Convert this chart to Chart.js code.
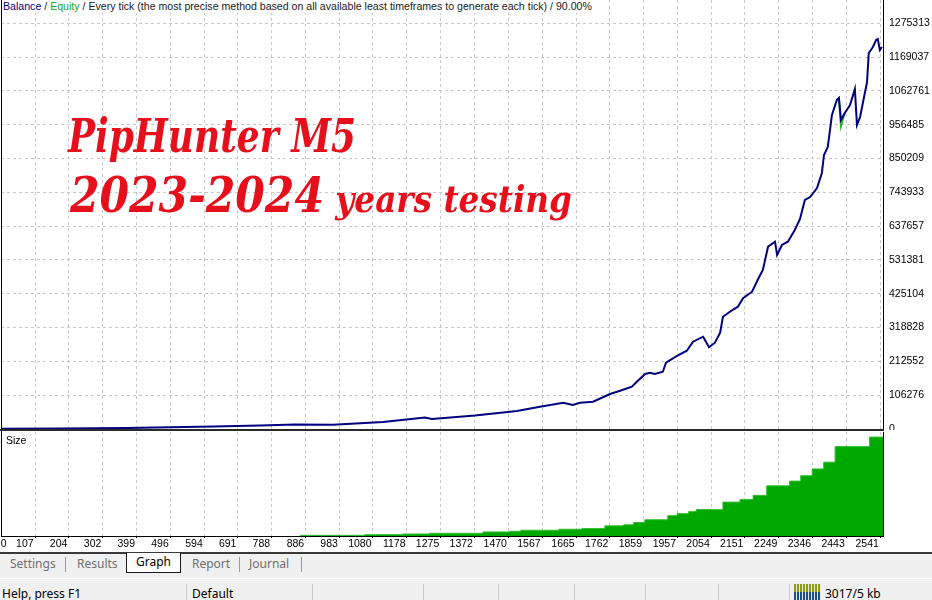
<!DOCTYPE html>
<html>
<head>
<meta charset="utf-8">
<title>PipHunter M5 - tester graph</title>
<script src="https://cdn.jsdelivr.net/npm/chart.js@4.4.1/dist/chart.umd.min.js"></script>
<style>
  body { margin: 0; width: 932px; height: 600px; overflow: hidden; background: #fff; position: relative;
         font-family: "Liberation Sans", Arial, sans-serif; }
  canvas { position: absolute; left: 0; }
  #equityChart { top: 0; }
  #sizeChart { top: 431px; }
  .line { position: absolute; background: #000; }
  #header { position: absolute; left: 3px; top: 0; font-size: 10.6px; line-height: 13px; color: #222;
            white-space: nowrap; background: #fff; padding-right: 2px; }
  #header .bal { color: #00007f; }
  #header .eq { color: #19a319; }
  #sizeLabel { position: absolute; left: 6px; top: 434px; font-size: 10.5px; color: #000; }
  .title { position: absolute; color: #e6101c; font-family: "DejaVu Serif Condensed", "DejaVu Serif", serif;
           font-stretch: condensed; font-style: italic; font-weight: bold; white-space: nowrap;
           transform-origin: 0 0; line-height: 1; }
  #tabs { position: absolute; left: 0; top: 554px; width: 932px; height: 24px; background: #f0f0f0; }
  #tabs span { position: absolute; top: 1px; font-family: "Noto Sans", sans-serif; font-size: 12px; color: #6f6f6f; }
  #tabs i { position: absolute; top: 3px; width: 1px; height: 15px; background: #9a9a9a; }
  #graphTab { position: absolute; left: 126px; top: -1px; width: 53px; height: 19px; background: #fff;
              border: 1px solid #1a1a1a; border-top: none; font-family: "Noto Sans", sans-serif; font-size: 12px;
              color: #000; text-align: center; line-height: 18px; }
  #status { position: absolute; left: 0; top: 578px; width: 932px; height: 22px; background: #f0f0f0;
            border-top: 1px solid #fff; }
  #status span { position: absolute; top: 6px; font-family: "Noto Sans", sans-serif; font-size: 12px; color: #000; }
  #status i { position: absolute; top: 5px; width: 1px; height: 17px; background: #c8c8c8; }
  #netIcon { position: absolute; left: 794px; top: 5px; width: 27px; height: 17px;
             background: repeating-linear-gradient(90deg, #1d4f86 0 2px, #dfe7ef 2px 3px); }
  #netIcon::before { content: ""; position: absolute; left: 0; top: 0; width: 27px; height: 8px;
             background: repeating-linear-gradient(90deg, #8c9b1c 0 2px, #e8ecd0 2px 3px); }
</style>
</head>
<body>
<canvas id="equityChart" width="932" height="430"></canvas>
<canvas id="sizeChart" width="932" height="121"></canvas>

<!-- window frame -->
<div class="line" style="left:1px;top:0;width:1px;height:537px"></div>
<div class="line" style="left:0;top:429px;width:884px;height:2px;background:#2a2a2a"></div>
<div class="line" style="left:0;top:552px;width:932px;height:2px;background:#3a3a3a"></div>

<div id="header"><span class="bal">Balance</span> / <span class="eq">Equity</span> / Every tick (the most precise method based on all available least timeframes to generate each tick) / 90.00%</div>
<div id="sizeLabel">Size</div>

<div class="title" id="t1" style="left:68px;top:113px;font-size:46px">PipHunter M5</div>
<div class="title" id="t2" style="left:70px;top:171px;"><span style="font-size:48px">2023-2024</span><span style="font-size:37px"> years testing</span></div>

<div id="tabs">
  <span style="left:10px">Settings</span><i style="left:65px"></i>
  <span style="left:77px">Results</span>
  <div id="graphTab">Graph</div>
  <span style="left:192px">Report</span><i style="left:239px"></i>
  <span style="left:249px">Journal</span><i style="left:301px"></i>
</div>

<div id="status">
  <span style="left:2px">Help, press F1</span>
  <i style="left:186px"></i><span style="left:192px">Default</span>
  <i style="left:312px"></i><i style="left:423px"></i><i style="left:498px"></i><i style="left:574px"></i>
  <i style="left:645px"></i><i style="left:718px"></i><i style="left:789px"></i>
  <div id="netIcon"></div>
  <span style="left:825px">3017/5 kb</span>
</div>

<script>
// balance curve (trade number / account balance)
const trades = [0, 179, 369, 496, 622, 755, 856, 965, 1109, 1230, 1250, 1374, 1495, 1561, 1628, 1656, 1676, 1714,
  1763, 1792, 1826, 1840, 1864, 1878, 1892, 1915, 1924, 1956, 1984, 2002, 2031, 2048, 2065, 2080, 2088, 2108,
  2131, 2146, 2172, 2189, 2203, 2218, 2238, 2244, 2258, 2275, 2295, 2310, 2324, 2339, 2359, 2373, 2379, 2390,
  2402, 2416, 2422, 2428, 2439, 2454, 2468, 2474, 2483, 2491, 2503, 2508, 2520, 2529, 2534, 2540, 2546];
const balance = [1000, 1600, 3100, 5300, 7900, 11000, 14100, 13200, 22000, 35800, 31400, 42400, 56600, 70100,
  82700, 75400, 82700, 85800, 110000, 120400, 133000, 148700, 172900, 177000, 172900, 180100, 208400, 229500,
  246100, 274400, 290100, 256800, 271300, 302700, 353000, 368700, 384500, 410900, 431600, 470600, 499800,
  573100, 588800, 547000, 578400, 588800, 625600, 660100, 719900, 729300, 757600, 804800, 861300, 886500,
  987100, 1034200, 1040500, 971300, 993400, 1018500, 1068800, 955600, 980800, 1024800, 1090800, 1182000,
  1200800, 1222800, 1226000, 1191400, 1200800];

// equity where it drops below balance
const equityTrades = [2416, 2422, 2428, 2433, 2439];
const equity = [1034200, 1040500, 952000, 972000, 993400];

// lot size steps: each size holds from its trade until the next one
const sizeTrades = [870, 1056, 1166, 1243, 1397, 1473, 1506, 1616, 1682, 1748, 1802, 1830, 1863, 1929, 1956,
  1989, 2011, 2088, 2137, 2175, 2214, 2280, 2312, 2345, 2378, 2411, 2510, 2549];
const sizeLots = [0.2, 0.4, 0.6, 0.8, 1.2, 1.4, 1.7, 2.0, 2.2, 3.0, 3.3, 4.0, 4.8, 6.0, 6.6, 7.2, 7.8, 10.0,
  10.8, 12.0, 14.8, 16.2, 17.8, 19.8, 21.8, 26.4, 29.2, 29.2];

const xTicks = [0, 107, 204, 302, 399, 496, 594, 691, 788, 886, 983, 1080, 1178, 1275, 1372, 1470, 1567, 1665,
  1762, 1859, 1957, 2054, 2151, 2249, 2346, 2443, 2541];
const yTicks = [0, 106276, 212552, 318828, 425104, 531381, 637657, 743933, 850209, 956485, 1062761, 1169037, 1275313];

const X_MIN = 9, X_MAX = 2549;
const gridColor = '#c6c6c6';
const tickFont = { family: 'Liberation Sans', size: 10.5 };

function points(xs, ys) {
    return xs.map((x, i) => ({ x: x, y: ys[i] }));
}

// keep the plot edges where they are in the picture, labels may overhang
function noPadding(axis) {
    axis.paddingLeft = 0;
    axis.paddingRight = 0;
    axis.paddingTop = 0;
    axis.paddingBottom = 0;
}

const topChart = new Chart(document.getElementById('equityChart'), {
    type: 'line',
    data: {
        datasets: [{
            label: 'Balance',
            data: points(trades, balance),
            borderColor: '#02027e',
            borderWidth: 2,
            pointRadius: 0,
            order: 0,
        }, {
            label: 'Equity',
            data: points(equityTrades, equity),
            borderColor: '#2fae2f',
            borderWidth: 2,
            pointRadius: 0,
            order: 1,
        }],
    },
    options: {
        responsive: false,
        animation: false,
        events: [],
        layout: { padding: { left: 1, top: 0, right: 0, bottom: 1 } },
        plugins: { legend: { display: false }, tooltip: { enabled: false } },
        scales: {
            x: {
                type: 'linear', min: X_MIN, max: X_MAX,
                afterBuildTicks: (axis) => { axis.ticks = xTicks.filter(v => v >= X_MIN).map(v => ({ value: v })); },
                afterFit: (axis) => { axis.height = 0; noPadding(axis); },
                ticks: { display: false },
                grid: { color: gridColor, drawTicks: false },
                border: { display: false, dash: [3, 3] },
            },
            y: {
                position: 'right', min: 0, max: 1348560,
                afterBuildTicks: (axis) => { axis.ticks = yTicks.map(v => ({ value: v })); },
                afterFit: (axis) => { axis.width = 49; noPadding(axis); },
                ticks: { color: '#000', font: tickFont, padding: 6, callback: (v) => String(v) },
                grid: { color: gridColor, drawTicks: false },
                border: { display: true, color: '#000', width: 1, dash: [3, 3] },
            },
        },
    },
});

const bottomChart = new Chart(document.getElementById('sizeChart'), {
    type: 'line',
    data: {
        datasets: [{
            label: 'Size',
            data: points(sizeTrades, sizeLots),
            stepped: 'before',
            fill: 'origin',
            backgroundColor: '#00a800',
            borderColor: '#34c034',
            borderWidth: 1,
            pointRadius: 0,
        }],
    },
    options: {
        responsive: false,
        animation: false,
        events: [],
        layout: { padding: { left: 1, top: 1, right: 0, bottom: 0 } },
        plugins: { legend: { display: false }, tooltip: { enabled: false } },
        scales: {
            x: {
                type: 'linear', min: X_MIN, max: X_MAX,
                afterBuildTicks: (axis) => { axis.ticks = xTicks.filter(v => v >= X_MIN).map(v => ({ value: v })); },
                afterFit: (axis) => { axis.height = 2; noPadding(axis); },
                ticks: { display: false },
                grid: { color: gridColor, drawTicks: true, tickLength: 2, tickColor: '#000' },
                border: { display: true, color: '#000', width: 1, dash: [3, 3] },
            },
            xl: {
                type: 'linear', position: 'bottom', min: X_MIN, max: X_MAX,
                // labels sit just left of their grid line, the first one at the left edge
                afterBuildTicks: (axis) => { axis.ticks = xTicks.map((v, i) => ({ value: i === 0 ? 25 : v - 4 })); },
                afterFit: (axis) => { axis.height = 14; noPadding(axis); },
                ticks: {
                    color: '#000', font: tickFont, padding: 0, align: 'end', autoSkip: false, maxRotation: 0,
                    callback: (v, i) => String(xTicks[i]),
                },
                grid: { display: false, drawTicks: false },
                border: { display: false },
            },
            y: {
                position: 'right', min: 0, max: 30.7,
                afterFit: (axis) => { axis.width = 49; noPadding(axis); },
                ticks: { display: false },
                grid: { display: false, drawTicks: false },
                border: { display: true, color: '#000', width: 1 },
            },
        },
    },
});

// stretch the red caption lines to the width they take in the picture
function fitWidth(id, width) {
    const el = document.getElementById(id);
    const w = el.getBoundingClientRect().width;
    el.style.transform = 'scaleX(' + (width / w) + ')';
}
fitWidth('t1', 288);
fitWidth('t2', 502);
</script>
</body>
</html>
